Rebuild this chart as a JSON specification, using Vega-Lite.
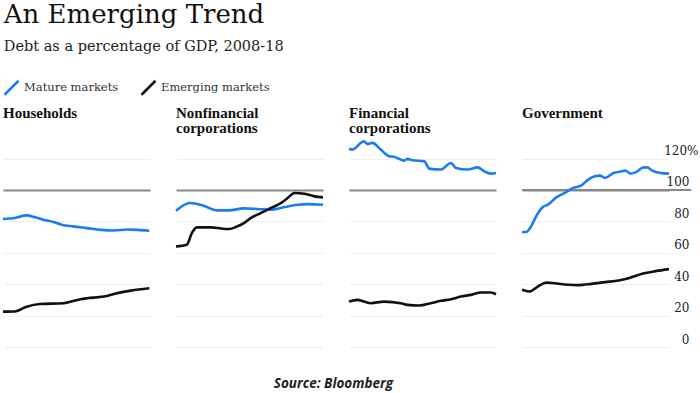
{
  "$schema": "https://vega.github.io/schema/vega-lite/v6.json",
  "padding": {"left": -3, "top": 1, "right": 0, "bottom": 0},
  "background": "white",
  "title": {
    "text": "An Emerging Trend",
    "subtitle": "Debt as a percentage of GDP, 2008-18",
    "anchor": "start",
    "frame": "bounds",
    "dx": 6,
    "font": "DejaVu Serif",
    "fontSize": 26,
    "fontWeight": "normal",
    "color": "#111",
    "subtitleFont": "DejaVu Serif",
    "subtitleFontSize": 14.5,
    "subtitleColor": "#222",
    "subtitlePadding": 12,
    "offset": 26
  },
  "data": {
    "values": [
      {"p":"H","s":"M","t":2008.0,"v":81.5},{"p":"H","s":"M","t":2008.84,"v":82.1},{"p":"H","s":"M","t":2009.68,"v":83.8},{"p":"H","s":"M","t":2010.3,"v":82.6},{"p":"H","s":"M","t":2010.9,"v":81.0},{"p":"H","s":"M","t":2011.6,"v":79.6},{"p":"H","s":"M","t":2012.2,"v":77.9},{"p":"H","s":"M","t":2013.0,"v":76.8},{"p":"H","s":"M","t":2014.0,"v":75.7},{"p":"H","s":"M","t":2015.0,"v":74.6},{"p":"H","s":"M","t":2015.9,"v":74.2},{"p":"H","s":"M","t":2016.9,"v":74.8},{"p":"H","s":"M","t":2017.6,"v":74.6},{"p":"H","s":"M","t":2018.45,"v":74.0},
      {"p":"H","s":"E","t":2008.0,"v":22.5},{"p":"H","s":"E","t":2008.84,"v":22.6},{"p":"H","s":"E","t":2009.68,"v":25.7},{"p":"H","s":"E","t":2010.64,"v":27.4},{"p":"H","s":"E","t":2012.33,"v":27.9},{"p":"H","s":"E","t":2013.53,"v":30.4},{"p":"H","s":"E","t":2014.0,"v":31.0},{"p":"H","s":"E","t":2015.2,"v":32.1},{"p":"H","s":"E","t":2016.17,"v":34.3},{"p":"H","s":"E","t":2017.13,"v":35.9},{"p":"H","s":"E","t":2018.45,"v":37.4},
      {"p":"N","s":"M","t":2008.0,"v":86.8},{"p":"N","s":"M","t":2009.0,"v":91.7},{"p":"N","s":"M","t":2009.97,"v":90.0},{"p":"N","s":"M","t":2010.93,"v":87.0},{"p":"N","s":"M","t":2011.77,"v":87.0},{"p":"N","s":"M","t":2012.85,"v":88.3},{"p":"N","s":"M","t":2013.81,"v":87.9},{"p":"N","s":"M","t":2014.78,"v":87.4},{"p":"N","s":"M","t":2015.74,"v":89.1},{"p":"N","s":"M","t":2016.7,"v":90.6},{"p":"N","s":"M","t":2017.42,"v":91.0},{"p":"N","s":"M","t":2018.5,"v":90.6},
      {"p":"N","s":"E","t":2008.0,"v":64.0},{"p":"N","s":"E","t":2008.77,"v":65.1},{"p":"N","s":"E","t":2009.13,"v":72.5},{"p":"N","s":"E","t":2009.49,"v":76.2},{"p":"N","s":"E","t":2010.45,"v":76.2},{"p":"N","s":"E","t":2011.77,"v":75.1},{"p":"N","s":"E","t":2012.37,"v":76.8},{"p":"N","s":"E","t":2012.85,"v":78.9},{"p":"N","s":"E","t":2013.33,"v":82.1},{"p":"N","s":"E","t":2014.05,"v":85.3},{"p":"N","s":"E","t":2014.78,"v":88.5},{"p":"N","s":"E","t":2015.5,"v":91.7},{"p":"N","s":"E","t":2015.98,"v":94.9},{"p":"N","s":"E","t":2016.46,"v":98.1},{"p":"N","s":"E","t":2017.18,"v":97.6},{"p":"N","s":"E","t":2017.9,"v":95.9},{"p":"N","s":"E","t":2018.5,"v":95.3},
      {"p":"F","s":"M","t":2008.0,"v":126.2},{"p":"F","s":"M","t":2008.24,"v":125.7},{"p":"F","s":"M","t":2009.07,"v":131.0},{"p":"F","s":"M","t":2009.31,"v":129.3},{"p":"F","s":"M","t":2009.67,"v":130.0},{"p":"F","s":"M","t":2010.27,"v":125.7},{"p":"F","s":"M","t":2010.86,"v":121.5},{"p":"F","s":"M","t":2011.22,"v":121.1},{"p":"F","s":"M","t":2011.94,"v":118.7},{"p":"F","s":"M","t":2012.18,"v":119.8},{"p":"F","s":"M","t":2012.53,"v":118.9},{"p":"F","s":"M","t":2013.37,"v":118.3},{"p":"F","s":"M","t":2013.73,"v":113.6},{"p":"F","s":"M","t":2014.56,"v":113.0},{"p":"F","s":"M","t":2015.28,"v":117.2},{"p":"F","s":"M","t":2015.64,"v":114.0},{"p":"F","s":"M","t":2016.47,"v":113.0},{"p":"F","s":"M","t":2017.19,"v":114.4},{"p":"F","s":"M","t":2017.66,"v":111.9},{"p":"F","s":"M","t":2018.14,"v":110.4},{"p":"F","s":"M","t":2018.5,"v":110.8},
      {"p":"F","s":"E","t":2008.0,"v":28.9},{"p":"F","s":"E","t":2008.6,"v":30.0},{"p":"F","s":"E","t":2009.55,"v":27.9},{"p":"F","s":"E","t":2010.5,"v":28.9},{"p":"F","s":"E","t":2011.7,"v":27.9},{"p":"F","s":"E","t":2012.18,"v":26.8},{"p":"F","s":"E","t":2013.01,"v":26.4},{"p":"F","s":"E","t":2013.85,"v":27.9},{"p":"F","s":"E","t":2014.56,"v":29.4},{"p":"F","s":"E","t":2015.28,"v":30.4},{"p":"F","s":"E","t":2015.99,"v":32.1},{"p":"F","s":"E","t":2016.71,"v":33.2},{"p":"F","s":"E","t":2017.43,"v":34.7},{"p":"F","s":"E","t":2018.14,"v":34.7},{"p":"F","s":"E","t":2018.5,"v":33.6},
      {"p":"G","s":"M","t":2008.0,"v":73.2},{"p":"G","s":"M","t":2008.29,"v":73.2},{"p":"G","s":"M","t":2008.65,"v":76.8},{"p":"G","s":"M","t":2009.01,"v":83.2},{"p":"G","s":"M","t":2009.49,"v":89.1},{"p":"G","s":"M","t":2009.85,"v":90.6},{"p":"G","s":"M","t":2010.45,"v":95.3},{"p":"G","s":"M","t":2011.05,"v":98.1},{"p":"G","s":"M","t":2011.65,"v":101.3},{"p":"G","s":"M","t":2012.25,"v":102.9},{"p":"G","s":"M","t":2012.73,"v":106.6},{"p":"G","s":"M","t":2013.21,"v":108.7},{"p":"G","s":"M","t":2013.57,"v":109.1},{"p":"G","s":"M","t":2013.93,"v":107.7},{"p":"G","s":"M","t":2014.54,"v":110.8},{"p":"G","s":"M","t":2015.14,"v":111.9},{"p":"G","s":"M","t":2015.38,"v":112.3},{"p":"G","s":"M","t":2015.74,"v":110.4},{"p":"G","s":"M","t":2016.1,"v":111.2},{"p":"G","s":"M","t":2016.7,"v":114.4},{"p":"G","s":"M","t":2016.94,"v":114.4},{"p":"G","s":"M","t":2017.3,"v":112.3},{"p":"G","s":"M","t":2017.9,"v":110.8},{"p":"G","s":"M","t":2018.5,"v":110.4},
      {"p":"G","s":"E","t":2008.0,"v":36.4},{"p":"G","s":"E","t":2008.53,"v":35.3},{"p":"G","s":"E","t":2009.13,"v":38.5},{"p":"G","s":"E","t":2009.73,"v":41.0},{"p":"G","s":"E","t":2010.33,"v":40.6},{"p":"G","s":"E","t":2011.29,"v":39.6},{"p":"G","s":"E","t":2012.01,"v":39.4},{"p":"G","s":"E","t":2012.97,"v":40.2},{"p":"G","s":"E","t":2013.93,"v":41.3},{"p":"G","s":"E","t":2014.9,"v":42.3},{"p":"G","s":"E","t":2015.62,"v":43.8},{"p":"G","s":"E","t":2016.58,"v":46.6},{"p":"G","s":"E","t":2017.54,"v":48.3},{"p":"G","s":"E","t":2018.5,"v":49.6}
    ]
  },
  "vconcat": [
    {
      "title": {
        "text": "Source: Bloomberg",
        "orient": "bottom",
        "anchor": "start",
        "dx": 276,
        "font": "Open Sans",
        "fontSize": 13.5,
        "fontWeight": "bold",
        "fontStyle": "italic",
        "color": "#222",
        "lineHeight": 16,
        "offset": 30,
        "frame": "bounds"
      },
      "bounds": "flush",
      "spacing": 26,
      "hconcat": [
        {
          "title": {"text": ["Households", " "]},
          "width": 147, "height": 212,
          "transform": [{"filter": "datum.p == 'H'"}],
          "mark": {"type": "line", "strokeWidth": 2.6, "interpolate": "monotone"},
          "encoding": {
            "x": {"field": "t", "type": "quantitative", "scale": {"domain": [2008, 2018.5], "nice": false, "zero": false}, "axis": null},
            "y": {"field": "v", "type": "quantitative", "scale": {"domain": [0, 135], "nice": false}, "axis": {"orient": "right", "labels": false}},
            "color": {"field": "s", "type": "nominal", "scale": {"domain": ["M", "E"], "range": ["#1a7cf5", "#111111"]}, "legend": {"title": null, "labelExpr": "datum.label == 'M' ? 'Mature markets' : 'Emerging markets'"}}
          }
        },
        {
          "title": {"text": ["Nonfinancial", "corporations"]},
          "width": 147, "height": 212,
          "transform": [{"filter": "datum.p == 'N'"}],
          "mark": {"type": "line", "strokeWidth": 2.6, "interpolate": "monotone"},
          "encoding": {
            "x": {"field": "t", "type": "quantitative", "scale": {"domain": [2008, 2018.5], "nice": false, "zero": false}, "axis": null},
            "y": {"field": "v", "type": "quantitative", "scale": {"domain": [0, 135], "nice": false}, "axis": {"orient": "right", "labels": false}},
            "color": {"field": "s", "type": "nominal", "scale": {"domain": ["M", "E"], "range": ["#1a7cf5", "#111111"]}, "legend": {"title": null, "labelExpr": "datum.label == 'M' ? 'Mature markets' : 'Emerging markets'"}}
          }
        },
        {
          "title": {"text": ["Financial", "corporations"]},
          "width": 147, "height": 212,
          "transform": [{"filter": "datum.p == 'F'"}],
          "mark": {"type": "line", "strokeWidth": 2.6, "interpolate": "monotone"},
          "encoding": {
            "x": {"field": "t", "type": "quantitative", "scale": {"domain": [2008, 2018.5], "nice": false, "zero": false}, "axis": null},
            "y": {"field": "v", "type": "quantitative", "scale": {"domain": [0, 135], "nice": false}, "axis": {"orient": "right", "labels": false}},
            "color": {"field": "s", "type": "nominal", "scale": {"domain": ["M", "E"], "range": ["#1a7cf5", "#111111"]}, "legend": {"title": null, "labelExpr": "datum.label == 'M' ? 'Mature markets' : 'Emerging markets'"}}
          }
        },
        {
          "title": {"text": ["Government", " "]},
          "width": 147, "height": 212,
          "layer": [
            {
              "data": {"values": [{"a": 2008, "b": 2020.1, "y": 100}]},
              "mark": {"type": "rule", "color": "#888888", "strokeWidth": 2},
              "encoding": {
                "x": {"field": "a", "type": "quantitative", "scale": {"domain": [2008, 2018.5], "nice": false, "zero": false}, "axis": null},
                "x2": {"field": "b"},
                "y": {"field": "y", "type": "quantitative", "scale": {"domain": [0, 135], "nice": false}, "axis": {
                  "orient": "right",
                  "labels": true,
                  "labelAlign": "right",
                  "labelBaseline": "alphabetic",
                  "labelOffset": -4,
                  "labelPadding": {"condition": {"test": "datum.value == 120", "value": 29}, "value": 20},
                  "labelExpr": "datum.value == 120 ? '120%' : datum.label"
                }}
              }
            },
            {
              "transform": [{"filter": "datum.p == 'G'"}],
              "mark": {"type": "line", "strokeWidth": 2.6, "interpolate": "monotone"},
              "encoding": {
                "x": {"field": "t", "type": "quantitative"},
                "y": {"field": "v", "type": "quantitative"},
                "color": {"field": "s", "type": "nominal", "scale": {"domain": ["M", "E"], "range": ["#1a7cf5", "#111111"]}, "legend": {"title": null, "labelExpr": "datum.label == 'M' ? 'Mature markets' : 'Emerging markets'"}}
              }
            }
          ]
        }
      ]
    }
  ],
  "config": {
    "view": {"stroke": null},
    "title": {
      "anchor": "start",
      "font": "Liberation Serif",
      "fontSize": 15,
      "fontWeight": "bold",
      "color": "#111",
      "lineHeight": 15,
      "frame": "group",
      "offset": -1
    },
    "axisY": {
      "values": [0, 20, 40, 60, 80, 100, 120],
      "title": null,
      "domain": false,
      "ticks": false,
      "grid": true,
      "minExtent": 0,
      "gridColor": {"condition": {"test": "datum.value == 100", "value": "#888888"}, "value": "#eeeeee"},
      "gridWidth": {"condition": {"test": "datum.value == 100", "value": 2}, "value": 1},
      "labelFont": "DejaVu Serif",
      "labelFontSize": 12,
      "labelColor": "#222"
    },
    "legend": {
      "orient": "top",
      "direction": "horizontal",
      "symbolType": "M-1,1L1,-1",
      "symbolSize": 196,
      "symbolStrokeWidth": 2.5,
      "labelFont": "DejaVu Serif",
      "labelFontSize": 11.5,
      "labelColor": "#333",
      "columnPadding": 17,
      "symbolOffset": 0,
      "offset": 6
    }
  }
}
